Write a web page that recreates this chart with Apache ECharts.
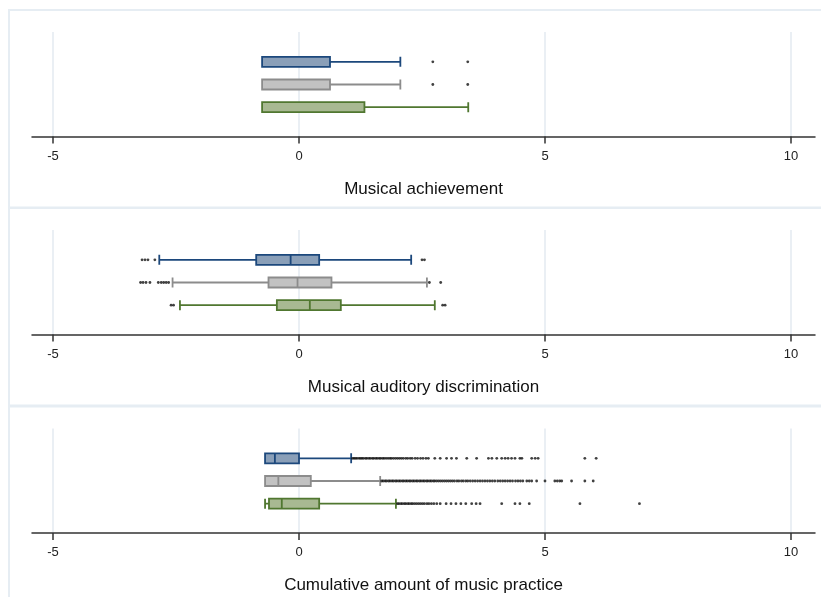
<!DOCTYPE html>
<html>
<head>
<meta charset="utf-8">
<script src="https://cdn.jsdelivr.net/npm/echarts@6/dist/echarts.min.js"></script>
<style>
  html, body { margin: 0; padding: 0; background: #fff; }
  #main { width: 821px; height: 597px; }
</style>
</head>
<body>
<div id="main"></div>
<script>
// panel titles
const panelTitles = ['Musical achievement', 'Musical auditory discrimination', 'Cumulative amount of music practice']
const groups = ['blue', 'gray', 'green']
const tickValues = [-5, 0, 5, 10]

// box stats: [min, Q1, median, Q3, max] per group (blue, gray, green)
const achievementBoxes = [
  [-0.75, -0.75, -0.75, 0.63, 2.06],
  [-0.75, -0.75, -0.75, 0.63, 2.06],
  [-0.75, -0.75, -0.75, 1.33, 3.44]
]
const discriminationBoxes = [
  [-2.84, -0.87, -0.17, 0.41, 2.28],
  [-2.57, -0.62, -0.03, 0.66, 2.60],
  [-2.42, -0.45, 0.22, 0.85, 2.76]
]
const practiceBoxes = [
  [-0.69, -0.69, -0.49, 0.00, 1.06],
  [-0.69, -0.69, -0.42, 0.24, 1.65],
  [-0.69, -0.61, -0.35, 0.41, 1.97]
]

// outliers per group
const achievementOut = [
  [2.72, 3.43],
  [2.72, 3.43],
  []
]
const discriminationOut = [
  [-3.19, -3.13, -3.07, -2.93, 2.50, 2.55],
  [-3.22, -3.17, -3.11, -3.03, -2.86, -2.80, -2.75, -2.70, -2.65, 2.65, 2.88],
  [-2.60, -2.55, 2.92, 2.97]
]
const practiceOut = [
  [1.09, 1.12, 1.15, 1.18, 1.22, 1.25, 1.28, 1.31, 1.35, 1.38, 1.42, 1.45, 1.49, 1.52, 1.56, 1.59, 1.63,
   1.66, 1.70, 1.73, 1.77, 1.81, 1.85, 1.88, 1.92, 1.96, 2.00, 2.04, 2.08, 2.12, 2.17, 2.21, 2.26, 2.30,
   2.36, 2.41, 2.47, 2.52, 2.58, 2.63, 2.76, 2.87, 3.00, 3.10, 3.20, 3.41, 3.61, 3.85, 3.92, 4.02, 4.12,
   4.19, 4.25, 4.32, 4.39, 4.49, 4.53, 4.73, 4.80, 4.86, 5.81, 6.04],
  [1.68, 1.71, 1.75, 1.78, 1.82, 1.85, 1.89, 1.92, 1.96, 1.99, 2.03, 2.06, 2.10, 2.13, 2.17, 2.20, 2.24,
   2.27, 2.31, 2.34, 2.38, 2.41, 2.45, 2.48, 2.52, 2.55, 2.59, 2.62, 2.66, 2.69, 2.73, 2.76, 2.80, 2.84,
   2.88, 2.92, 2.96, 3.00, 3.04, 3.08, 3.12, 3.16, 3.21, 3.25, 3.30, 3.34, 3.39, 3.43, 3.48, 3.53, 3.58,
   3.63, 3.68, 3.73, 3.78, 3.83, 3.88, 3.93, 3.98, 4.04, 4.09, 4.14, 4.19, 4.24, 4.29, 4.34, 4.40, 4.45,
   4.50, 4.55, 4.63, 4.68, 4.73, 4.83, 5.00, 5.20, 5.25, 5.30, 5.34, 5.54, 5.81, 5.98],
  [2.00, 2.03, 2.07, 2.10, 2.14, 2.17, 2.21, 2.24, 2.28, 2.31, 2.35, 2.39, 2.43, 2.47, 2.51, 2.55, 2.60,
   2.64, 2.69, 2.74, 2.80, 2.87, 2.99, 3.09, 3.19, 3.29, 3.39, 3.51, 3.60, 3.68, 4.12, 4.39, 4.49, 4.68,
   5.71, 6.92]
]

const boxSets = [achievementBoxes, discriminationBoxes, practiceBoxes]
const outSets = [achievementOut, discriminationOut, practiceOut]

const fills = ['#8a9fb8', '#c2c2c2', '#a8b992']
const strokes = ['#1c487c', '#8c8c8c', '#507730']
const font = 'Liberation Sans'
const xMin = -5.427, xMax = 10.488
const offsets = [0, 198, 396.5]

let myChart = echarts.init(document.getElementById('main'))

const grid = [], xAxis = [], yAxis = [], series = [], graphic = []
offsets.forEach((off, p) => {
  // panel frame
  graphic.push({
    type: 'rect', z: -1, silent: true,
    shape: { x: 9, y: 10 + off, width: 900, height: 197.5 },
    style: { fill: 'none', stroke: '#e6edf3', lineWidth: 2 }
  })
  // outer grid: axis + gridlines
  grid.push({ left: 32, right: 6, top: 32 + off, height: 104.5 })
  xAxis.push({
    type: 'value', gridIndex: 2 * p, min: xMin, max: xMax,
    name: panelTitles[p], nameLocation: 'middle', nameGap: 44,
    nameTextStyle: { fontFamily: font, fontSize: 17, color: '#111' },
    axisLine: { show: true, onZero: false, lineStyle: { color: '#333', width: 1.5 } },
    axisTick: { show: true, length: 7, customValues: tickValues, lineStyle: { color: '#333', width: 1.5 } },
    axisLabel: { customValues: tickValues, margin: 13, fontFamily: font, fontSize: 13, color: '#222' },
    splitLine: { show: true, lineStyle: { color: '#e3eaf1', width: 1.5 } }
  })
  yAxis.push({ type: 'category', gridIndex: 2 * p, data: groups, show: false })
  // inner grid: boxes
  grid.push({ left: 32, right: 6, top: 50.5 + off, height: 68 })
  xAxis.push({ type: 'value', gridIndex: 2 * p + 1, min: xMin, max: xMax, show: false, splitLine: { show: false } })
  yAxis.push({ type: 'category', gridIndex: 2 * p + 1, data: groups, inverse: true, show: false })

  series.push({
    type: 'boxplot',
    xAxisIndex: 2 * p + 1, yAxisIndex: 2 * p + 1,
    boxWidth: [10, 10],
    silent: true,
    data: boxSets[p].map((v, i) => ({
      value: v,
      itemStyle: { color: fills[i], borderColor: strokes[i], borderWidth: 1.8 }
    }))
  })
  const pts = []
  outSets[p].forEach((arr, i) => arr.forEach(x => pts.push([x, i])))
  series.push({
    type: 'scatter',
    xAxisIndex: 2 * p + 1, yAxisIndex: 2 * p + 1,
    symbolSize: 2.8,
    silent: true,
    itemStyle: { color: '#111' },
    data: pts
  })
})

myChart.setOption({
  animation: false,
  grid: grid,
  xAxis: xAxis,
  yAxis: yAxis,
  graphic: graphic,
  series: series
})
</script>
</body>
</html>
